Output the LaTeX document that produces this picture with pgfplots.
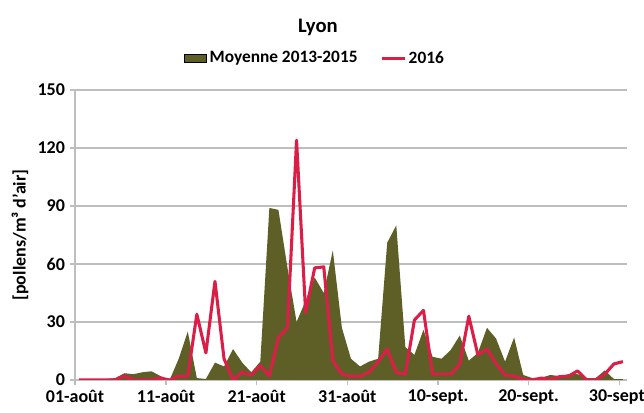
\documentclass[border=0pt]{standalone}
\usepackage{fontspec}
\setmainfont{Carlito}
\usepackage{pgfplots}
\pgfplotsset{compat=1.18}
\definecolor{olivefill}{RGB}{94,95,38}
\definecolor{redline}{RGB}{218,30,72}
\definecolor{gridgray}{RGB}{190,190,190}

\begin{document}
\begin{tikzpicture}
\begin{axis}[
  scale only axis,
  width=414pt, height=217.5pt,
  xmin=-0.44, xmax=60.45,
  ymin=0, ymax=150,
  ytick={0,30,60,90,120,150},
  xtick={-0.44,9.6,19.6,29.6,39.6,49.6,59.6},
  xticklabels={01-août,11-août,21-août,31-août,10-sept.,20-sept.,30-sept.},
  axis x line*=bottom, axis y line*=left,
  axis line style={gridgray, line width=1pt, -},
  ymajorgrids, grid style={gridgray, line width=1pt},
  tick style={gridgray, line width=1pt},
  tick align=outside, major tick length=4pt,
  /pgf/number format/assume math mode=true,
  ticklabel style={font=\bfseries\fontsize{13.5}{16}\selectfont},
  ylabel={[pollens/m³ d'air]},
  ylabel style={font=\bfseries\fontsize{13.5}{16}\selectfont},
  title={Lyon},
  title style={font=\bfseries\fontsize{15.5}{18}\selectfont, at={(0.44,1)}, anchor=base, yshift=37pt},
  legend columns=2,
  legend style={at={(0.435,1.11)}, anchor=center, draw=none, fill=none,
    font=\bfseries\fontsize{13}{15}\selectfont,
    /tikz/every even column/.append style={column sep=15pt}},
  legend cell align=left,
]
\addplot[area legend, fill=olivefill, draw=none] coordinates {
  (0,0) (1,0) (2,0) (3,0.5) (4,1) (5,3.5) (6,3) (7,4) (8,4.5) (9,2)
  (10,0) (11,11) (12,25) (13,1) (14,0.5) (15,9) (16,7) (17,16) (18,9) (19,4)
  (20,9.5) (21,89) (22,88) (23,58) (24,30) (25,41) (26,53) (27,45) (28,67) (29,27)
  (30,11) (31,7) (32,9.5) (33,11) (34,71) (35,80) (36,17) (37,13) (38,26) (39,12)
  (40,11) (41,15.5) (42,23) (43,10) (44,14) (45,27) (46,21.5) (47,9.5) (48,22) (49,2.6)
  (50,1) (51,1.2) (52,2.6) (53,2) (54,3) (55,3) (56,1) (57,1) (58,5) (59,0.5)
  (60,0.5)
} \closedcycle;
\addlegendentry{Moyenne 2013-2015}

\addplot[redline, line width=2.3pt, line join=round, mark=none] coordinates {
  (0,0) (1,0) (2,0) (3,0) (4,0) (5,2) (6,0) (7,0) (8,0) (9,1)
  (10,0) (11,2) (12,2) (13,34) (14,14) (15,51) (16,11) (17,0) (18,4) (19,2.5)
  (20,7.5) (21,2) (22,22) (23,27) (24,124) (25,35) (26,58) (27,58.5) (28,10) (29,3)
  (30,2) (31,2) (32,4) (33,9.5) (34,16) (35,4) (36,3) (37,31) (38,36) (39,3)
  (40,3) (41,3) (42,8) (43,33) (44,13) (45,16) (46,8.5) (47,2.5) (48,2) (49,0.3)
  (50,0) (51,1) (52,0.3) (53,1.7) (54,2) (55,4.7) (56,0) (57,0) (58,3) (59,8.3)
  (60,9.5)
};
\addlegendentry{2016}

\coordinate (sw) at (rel axis cs:0,0);
\coordinate (ne) at (rel axis cs:1,1);
\end{axis}
\pgfresetboundingbox
\path ([shift={(-56.25pt,-24.75pt)}]sw) rectangle ([shift={(12.75pt,67.5pt)}]ne);
\end{tikzpicture}
\end{document}
